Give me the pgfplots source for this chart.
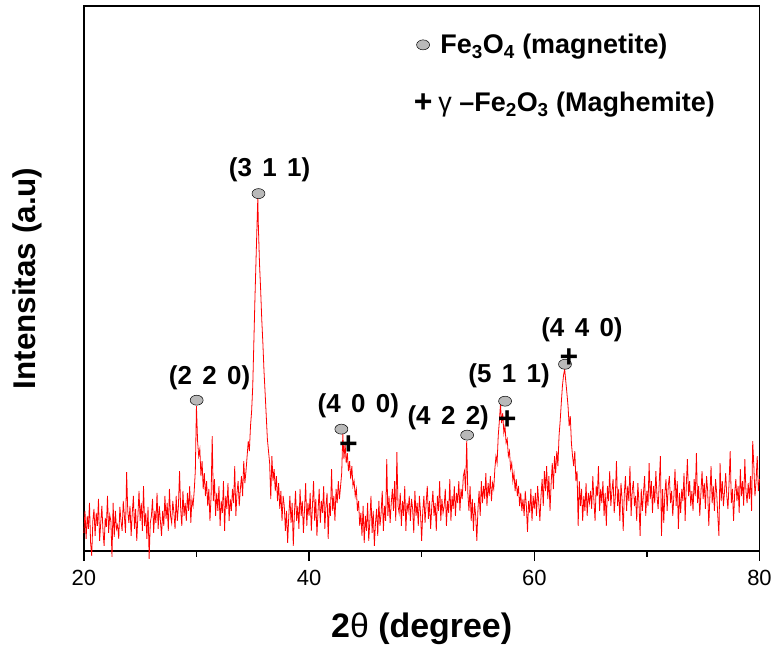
\documentclass[border=0pt]{standalone}
\usepackage{fontspec}
\setmainfont{Liberation Sans}
\usepackage{pgfplots}
\pgfplotsset{compat=1.18}

\begin{document}
\begin{tikzpicture}
\begin{axis}[
  scale only axis, width=677pt, height=546pt,
  xmin=20, xmax=80, ymin=0, ymax=546,
  xtick={20,40,60,80}, minor xtick={30,50,70}, ytick=\empty,
  xtick pos=bottom, tick align=outside,
  major tick length=10pt, minor tick length=6pt,
  every tick/.style={black, line width=1.5pt},
  axis line style={line width=1.5pt},
  /pgf/number format/assume math mode=true,
  xticklabel style={font=\fontsize{22}{24}\selectfont, yshift=-6pt},
  xlabel={2{\mdseries θ} (degree)},
  ylabel={Intensitas (a.u)},
  label style={font=\fontsize{31.5}{36}\selectfont\bfseries},
  xlabel style={at={(axis description cs:0.5,-0.143)}, anchor=center, font=\fontsize{34}{38}\selectfont\bfseries},
  ylabel style={at={(axis description cs:-0.084,0.5)}, anchor=center},
  clip=false,
  legend style={at={(axis description cs:0.488,0.952)}, anchor=north west,
    draw=none, fill=none, inner sep=0pt, row sep=33pt,
    font=\fontsize{27}{30}\selectfont\bfseries},
  legend cell align=left,
]
\addplot[red, line width=0.8pt, forget plot] table[row sep=\\] {
x y\\
20.0 18\\ 20.1 40\\ 20.2 12\\ 20.3 35\\ 20.4 22\\ 20.5 48\\ 20.6 8\\ 20.7 -5\\ 20.8 30\\ 20.9 42\\
21.0 15\\ 21.1 38\\ 21.2 25\\ 21.3 52\\ 21.4 10\\ 21.5 28\\ 21.6 45\\ 21.7 20\\ 21.8 5\\ 21.9 33\\
22.0 24\\ 22.1 55\\ 22.2 18\\ 22.3 36\\ 22.4 30\\ 22.5 -6\\ 22.6 48\\ 22.7 14\\ 22.8 40\\ 22.9 22\\
23.0 26\\ 23.1 12\\ 23.2 44\\ 23.3 30\\ 23.4 20\\ 23.5 50\\ 23.6 35\\ 23.7 18\\ 23.8 79\\ 23.9 40\\
24.0 28\\ 24.1 45\\ 24.2 15\\ 24.3 38\\ 24.4 55\\ 24.5 22\\ 24.6 42\\ 24.7 10\\ 24.8 35\\ 24.9 60\\
25.0 30\\ 25.1 48\\ 25.2 20\\ 25.3 65\\ 25.4 25\\ 25.5 38\\ 25.6 12\\ 25.7 44\\ 25.8 -8\\ 25.9 28\\
26.0 35\\ 26.1 52\\ 26.2 18\\ 26.3 40\\ 26.4 28\\ 26.5 58\\ 26.6 22\\ 26.7 45\\ 26.8 30\\ 26.9 15\\
27.0 40\\ 27.1 25\\ 27.2 55\\ 27.3 32\\ 27.4 48\\ 27.5 20\\ 27.6 62\\ 27.7 35\\ 27.8 28\\ 27.9 50\\
28.0 38\\ 28.1 22\\ 28.2 55\\ 28.3 30\\ 28.4 45\\ 28.5 80\\ 28.6 42\\ 28.7 25\\ 28.8 60\\ 28.9 35\\
29.0 48\\ 29.1 30\\ 29.2 58\\ 29.3 40\\ 29.4 65\\ 29.5 28\\ 29.6 52\\ 29.7 45\\ 29.8 60\\ 29.9 80\\
30.0 145\\ 30.1 110\\ 30.2 95\\ 30.3 102\\ 30.4 75\\ 30.5 90\\ 30.6 62\\ 30.7 78\\ 30.8 55\\ 30.9 70\\
31.0 45\\ 31.1 62\\ 31.2 30\\ 31.3 55\\ 31.4 115\\ 31.5 50\\ 31.6 72\\ 31.7 35\\ 31.8 58\\ 31.9 40\\
32.0 65\\ 32.1 25\\ 32.2 50\\ 32.3 38\\ 32.4 70\\ 32.5 20\\ 32.6 55\\ 32.7 42\\ 32.8 68\\ 32.9 30\\
33.0 52\\ 33.1 40\\ 33.2 62\\ 33.3 48\\ 33.4 85\\ 33.5 35\\ 33.6 58\\ 33.7 70\\ 33.8 45\\ 33.9 62\\
34.0 75\\ 34.1 55\\ 34.2 90\\ 34.3 68\\ 34.4 80\\ 34.5 95\\ 34.6 110\\ 34.7 100\\ 34.8 125\\ 34.9 140\\
35.0 165\\ 35.1 210\\ 35.2 255\\ 35.3 295\\ 35.4 335\\ 35.45 354\\ 35.5 325\\ 35.6 288\\ 35.7 262\\ 35.8 232\\ 35.9 208\\
36.0 180\\ 36.1 158\\ 36.2 135\\ 36.3 112\\ 36.4 100\\ 36.5 88\\ 36.6 52\\ 36.7 95\\ 36.8 70\\ 36.9 82\\
37.0 60\\ 37.1 75\\ 37.2 50\\ 37.3 68\\ 37.4 42\\ 37.5 60\\ 37.6 30\\ 37.7 55\\ 37.8 45\\ 37.9 20\\
38.0 40\\ 38.1 8\\ 38.2 35\\ 38.3 55\\ 38.4 28\\ 38.5 48\\ 38.6 5\\ 38.7 38\\ 38.8 60\\ 38.9 30\\
39.0 45\\ 39.1 22\\ 39.2 62\\ 39.3 35\\ 39.4 50\\ 39.5 18\\ 39.6 42\\ 39.7 68\\ 39.8 25\\ 39.9 48\\
40.0 35\\ 40.1 58\\ 40.2 20\\ 40.3 45\\ 40.4 70\\ 40.5 30\\ 40.6 52\\ 40.7 15\\ 40.8 40\\ 40.9 62\\
41.0 28\\ 41.1 50\\ 41.2 38\\ 41.3 65\\ 41.4 22\\ 41.5 45\\ 41.6 58\\ 41.7 12\\ 41.8 48\\ 41.9 35\\
42.0 82\\ 42.1 40\\ 42.2 55\\ 42.3 30\\ 42.4 62\\ 42.5 48\\ 42.6 70\\ 42.7 52\\ 42.8 65\\ 42.9 78\\
43.0 117\\ 43.1 92\\ 43.2 108\\ 43.3 88\\ 43.4 98\\ 43.5 80\\ 43.6 90\\ 43.7 72\\ 43.8 85\\ 43.9 65\\
44.0 70\\ 44.1 55\\ 44.2 62\\ 44.3 40\\ 44.4 50\\ 44.5 25\\ 44.6 38\\ 44.7 15\\ 44.8 45\\ 44.9 8\\
45.0 35\\ 45.1 20\\ 45.2 48\\ 45.3 10\\ 45.4 30\\ 45.5 55\\ 45.6 18\\ 45.7 40\\ 45.8 5\\ 45.9 28\\
46.0 42\\ 46.1 15\\ 46.2 50\\ 46.3 25\\ 46.4 38\\ 46.5 60\\ 46.6 20\\ 46.7 45\\ 46.8 30\\ 46.9 92\\
47.0 35\\ 47.1 55\\ 47.2 28\\ 47.3 48\\ 47.4 62\\ 47.5 40\\ 47.6 70\\ 47.7 30\\ 47.8 99\\ 47.9 45\\
48.0 38\\ 48.1 58\\ 48.2 25\\ 48.3 50\\ 48.4 35\\ 48.5 65\\ 48.6 20\\ 48.7 48\\ 48.8 40\\ 48.9 55\\
49.0 30\\ 49.1 52\\ 49.2 42\\ 49.3 18\\ 49.4 60\\ 49.5 35\\ 49.6 48\\ 49.7 25\\ 49.8 55\\ 49.9 38\\
50.0 10\\ 50.1 40\\ 50.2 55\\ 50.3 28\\ 50.4 48\\ 50.5 65\\ 50.6 32\\ 50.7 50\\ 50.8 22\\ 50.9 45\\
51.0 60\\ 51.1 35\\ 51.2 48\\ 51.3 20\\ 51.4 55\\ 51.5 40\\ 51.6 70\\ 51.7 30\\ 51.8 52\\ 51.9 38\\
52.0 45\\ 52.1 62\\ 52.2 25\\ 52.3 50\\ 52.4 38\\ 52.5 72\\ 52.6 30\\ 52.7 55\\ 52.8 42\\ 52.9 65\\
53.0 35\\ 53.1 58\\ 53.2 48\\ 53.3 70\\ 53.4 40\\ 53.5 62\\ 53.6 52\\ 53.7 75\\ 53.8 80\\ 53.9 60\\
54.0 110\\ 54.1 58\\ 54.2 40\\ 54.3 65\\ 54.4 30\\ 54.5 52\\ 54.6 20\\ 54.7 48\\ 54.8 35\\ 54.9 10\\
55.0 42\\ 55.1 60\\ 55.2 35\\ 55.3 70\\ 55.4 48\\ 55.5 65\\ 55.6 52\\ 55.7 78\\ 55.8 45\\ 55.9 68\\
56.0 55\\ 56.1 75\\ 56.2 50\\ 56.3 68\\ 56.4 62\\ 56.5 82\\ 56.6 95\\ 56.7 88\\ 56.8 115\\ 56.9 130\\
57.0 147\\ 57.1 128\\ 57.2 138\\ 57.3 118\\ 57.4 125\\ 57.5 108\\ 57.6 112\\ 57.7 95\\ 57.8 100\\ 57.9 82\\
58.0 88\\ 58.1 70\\ 58.2 78\\ 58.3 60\\ 58.4 72\\ 58.5 55\\ 58.6 65\\ 58.7 45\\ 58.8 58\\ 58.9 40\\
59.0 52\\ 59.1 35\\ 59.2 60\\ 59.3 45\\ 59.4 19\\ 59.5 50\\ 59.6 38\\ 59.7 62\\ 59.8 30\\ 59.9 55\\
60.0 42\\ 60.1 58\\ 60.2 35\\ 60.3 65\\ 60.4 48\\ 60.5 30\\ 60.6 55\\ 60.7 72\\ 60.8 45\\ 60.9 80\\
61.0 60\\ 61.1 85\\ 61.2 52\\ 61.3 75\\ 61.4 40\\ 61.5 68\\ 61.6 88\\ 61.7 62\\ 61.8 95\\ 61.9 78\\
62.0 100\\ 62.1 85\\ 62.2 115\\ 62.3 130\\ 62.4 148\\ 62.5 165\\ 62.6 176\\ 62.7 182\\ 62.8 170\\ 62.9 158\\
63.0 145\\ 63.1 125\\ 63.2 135\\ 63.3 108\\ 63.4 95\\ 63.5 85\\ 63.6 100\\ 63.7 70\\ 63.8 80\\ 63.9 25\\
64.0 70\\ 64.1 45\\ 64.2 62\\ 64.3 30\\ 64.4 55\\ 64.5 40\\ 64.6 68\\ 64.7 35\\ 64.8 58\\ 64.9 48\\
65.0 60\\ 65.1 42\\ 65.2 75\\ 65.3 50\\ 65.4 30\\ 65.5 65\\ 65.6 55\\ 65.7 85\\ 65.8 40\\ 65.9 62\\
66.0 48\\ 66.1 70\\ 66.2 35\\ 66.3 58\\ 66.4 25\\ 66.5 65\\ 66.6 50\\ 66.7 80\\ 66.8 45\\ 66.9 60\\
67.0 72\\ 67.1 38\\ 67.2 55\\ 67.3 90\\ 67.4 45\\ 67.5 62\\ 67.6 30\\ 67.7 68\\ 67.8 52\\ 67.9 20\\
68.0 58\\ 68.1 75\\ 68.2 40\\ 68.3 65\\ 68.4 50\\ 68.5 85\\ 68.6 35\\ 68.7 60\\ 68.8 70\\ 68.9 45\\
69.0 55\\ 69.1 30\\ 69.2 68\\ 69.3 48\\ 69.4 15\\ 69.5 62\\ 69.6 40\\ 69.7 58\\ 69.8 75\\ 69.9 35\\
70.0 60\\ 70.1 45\\ 70.2 88\\ 70.3 52\\ 70.4 70\\ 70.5 38\\ 70.6 65\\ 70.7 48\\ 70.8 80\\ 70.9 55\\
71.0 42\\ 71.1 68\\ 71.2 95\\ 71.3 15\\ 71.4 62\\ 71.5 28\\ 71.6 58\\ 71.7 72\\ 71.8 40\\ 71.9 65\\
72.0 75\\ 72.1 48\\ 72.2 60\\ 72.3 35\\ 72.4 55\\ 72.5 82\\ 72.6 45\\ 72.7 70\\ 72.8 22\\ 72.9 58\\
73.0 38\\ 73.1 62\\ 73.2 50\\ 73.3 78\\ 73.4 30\\ 73.5 65\\ 73.6 92\\ 73.7 55\\ 73.8 70\\ 73.9 45\\
74.0 60\\ 74.1 40\\ 74.2 72\\ 74.3 55\\ 74.4 98\\ 74.5 48\\ 74.6 65\\ 74.7 35\\ 74.8 58\\ 74.9 80\\
75.0 52\\ 75.1 68\\ 75.2 42\\ 75.3 75\\ 75.4 60\\ 75.5 25\\ 75.6 55\\ 75.7 85\\ 75.8 48\\ 75.9 65\\
76.0 40\\ 76.1 72\\ 76.2 58\\ 76.3 35\\ 76.4 15\\ 76.5 88\\ 76.6 50\\ 76.7 70\\ 76.8 45\\ 76.9 60\\
77.0 78\\ 77.1 55\\ 77.2 42\\ 77.3 68\\ 77.4 100\\ 77.5 48\\ 77.6 62\\ 77.7 30\\ 77.8 58\\ 77.9 72\\
78.0 50\\ 78.1 65\\ 78.2 38\\ 78.3 82\\ 78.4 55\\ 78.5 70\\ 78.6 45\\ 78.7 92\\ 78.8 60\\ 78.9 48\\
79.0 68\\ 79.1 52\\ 79.2 75\\ 79.3 40\\ 79.4 110\\ 79.5 85\\ 79.6 55\\ 79.7 70\\ 79.8 95\\ 79.9 60\\
80.0 72\\
};
% peak markers: magnetite (circles) and maghemite (plus)
\addplot[only marks, mark=*, mark size=5pt,
  mark options={xscale=1.3, fill=gray!55, draw=black, line width=0.5pt}]
  coordinates {(30.02,151) (35.51,358) (42.87,122) (54.04,116) (57.41,150) (62.73,187)};
\addlegendentry{\hspace{6pt}Fe\textsubscript{3}O\textsubscript{4} (magnetite)}
\addplot[only marks, black, mark=text,
  text mark={\fontsize{32}{32}\selectfont\bfseries +}]
  coordinates {(43.49,106) (57.59,131) (63.09,193)};
\addlegendentry{\hspace{4pt}{\mdseries γ} –Fe\textsubscript{2}O\textsubscript{3} (Maghemite)}

\begin{scope}[every node/.style={font=\fontsize{26}{30}\selectfont\bfseries, anchor=base}]
\node at (axis cs:31.17,167) {(2\hspace{0.4em}2\hspace{0.4em}0)};
\node at (axis cs:36.49,375) {(3\hspace{0.4em}1\hspace{0.4em}1)};
\node at (axis cs:44.38,139) {(4\hspace{0.4em}0\hspace{0.4em}0)};
\node at (axis cs:52.36,127) {(4\hspace{0.4em}2\hspace{0.4em}2)};
\node at (axis cs:57.77,169) {(5\hspace{0.4em}1\hspace{0.4em}1)};
\node at (axis cs:64.24,215) {(4\hspace{0.4em}4\hspace{0.4em}0)};
\end{scope}
\path (axis description cs:-0.1241,-0.1777) rectangle (axis description cs:1.0207,1.011);
\end{axis}
\end{tikzpicture}
\end{document}
